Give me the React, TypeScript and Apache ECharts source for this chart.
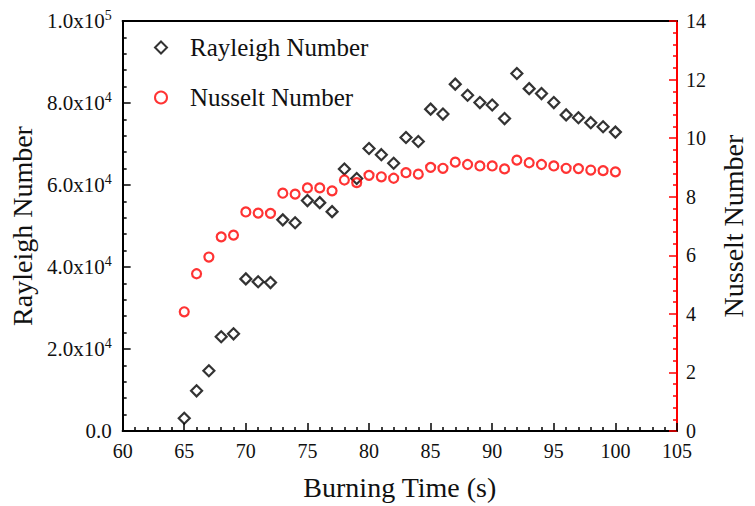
import React, { useEffect, useRef } from "react";
import * as echarts from "echarts";

const times = [65, 66, 67, 68, 69, 70, 71, 72, 73, 74, 75, 76, 77, 78, 79, 80, 81, 82, 83, 84, 85, 86, 87, 88, 89, 90, 91, 92, 93, 94, 95, 96, 97, 98, 99, 100];
const rayleigh = [3100, 9800, 14700, 23000, 23700, 37100, 36400, 36200, 51500, 50800, 56200, 55700, 53500, 63900, 61600, 68900, 67400, 65300, 71600, 70600, 78500, 77300, 84600, 81900, 80100, 79500, 76200, 87200, 83500, 82300, 80100, 77100, 76400, 75200, 74200, 72900];
const nusselt = [4.07, 5.37, 5.94, 6.63, 6.69, 7.48, 7.44, 7.43, 8.12, 8.09, 8.3, 8.3, 8.2, 8.57, 8.48, 8.73, 8.68, 8.63, 8.82, 8.77, 9.0, 8.97, 9.18, 9.1, 9.05, 9.05, 8.95, 9.25, 9.16, 9.1, 9.05, 8.97, 8.96, 8.91, 8.89, 8.85];

const FONT = "Liberation Serif";

function sciLabel(v: number): string {
  if (v === 0) return "{m|0.0}";
  const e = Math.floor(Math.log10(v) + 1e-9);
  const m = v / Math.pow(10, e);
  return `{m|${m.toFixed(1)}x10}{s|${e}}`;
}

export default function App() {
  const ref = useRef<HTMLDivElement>(null);
  useEffect(() => {
    if (!ref.current) return;
    const chart = echarts.init(ref.current, null, { renderer: "svg" });
    chart.setOption({
      animation: false,
      backgroundColor: "#fff",
      textStyle: { fontFamily: FONT },
      grid: { left: 122, right: 72, top: 21, bottom: 75 },
      legend: {
        orient: "vertical",
        left: 149,
        top: 30,
        itemWidth: 12,
        itemHeight: 12,
        itemGap: 25,
        textStyle: { fontFamily: FONT, fontSize: 25, color: "#111", padding: [0, 0, 0, 18], lineHeight: 25 },
        data: ["Rayleigh Number", "Nusselt Number"],
      },
      xAxis: [
        {
          type: "value",
          min: 60,
          max: 105,
          interval: 5,
          name: "Burning Time (s)",
          nameLocation: "middle",
          nameGap: 42,
          nameTextStyle: { fontFamily: FONT, fontSize: 28, color: "#111" },
          axisLine: { show: true, onZero: false, lineStyle: { color: "#000", width: 2 } },
          axisTick: { show: true, inside: true, length: 8, lineStyle: { color: "#000", width: 1.5 } },
          minorTick: { show: true, splitNumber: 5, length: 4, lineStyle: { color: "#000", width: 1.5 } },
          axisLabel: { fontFamily: FONT, fontSize: 20, color: "#111", margin: 10 },
          splitLine: { show: false },
        },
        {
          type: "value",
          position: "top",
          min: 60,
          max: 105,
          axisLine: { show: true, onZero: false, lineStyle: { color: "#000", width: 2 } },
          axisTick: { show: false },
          axisLabel: { show: false },
          splitLine: { show: false },
        },
      ],
      yAxis: [
        {
          type: "value",
          min: 0,
          max: 100000,
          interval: 20000,
          position: "left",
          name: "Rayleigh Number",
          nameLocation: "middle",
          nameRotate: 90,
          nameGap: 79,
          nameTextStyle: { fontFamily: FONT, fontSize: 28, color: "#111" },
          axisLine: { show: true, onZero: false, lineStyle: { color: "#000", width: 2 } },
          axisTick: { show: true, inside: true, length: 8, lineStyle: { color: "#000", width: 1.5 } },
          minorTick: { show: true, splitNumber: 5, length: 4, lineStyle: { color: "#000", width: 1.5 } },
          axisLabel: {
            margin: 11,
            formatter: (v: number) => sciLabel(v),
            rich: {
              m: { fontFamily: FONT, fontSize: 21, color: "#111" },
              s: { fontFamily: FONT, fontSize: 14, color: "#111", padding: [0, 0, 12, 0] },
            },
          },
          splitLine: { show: false },
        },
        {
          type: "value",
          min: 0,
          max: 14,
          interval: 2,
          position: "right",
          name: "Nusselt Number",
          nameLocation: "middle",
          nameRotate: 90,
          nameGap: 42,
          nameTextStyle: { fontFamily: FONT, fontSize: 28, color: "#111" },
          axisLine: { show: true, onZero: false, lineStyle: { color: "#f00", width: 2 } },
          axisTick: { show: true, inside: true, length: 8, lineStyle: { color: "#f00", width: 1.5 } },
          minorTick: { show: true, splitNumber: 5, length: 4, lineStyle: { color: "#f00", width: 1.5 } },
          axisLabel: { fontFamily: FONT, fontSize: 20, color: "#111", margin: 9 },
          splitLine: { show: false },
        },
      ],
      series: [
        {
          name: "Rayleigh Number",
          type: "scatter",
          xAxisIndex: 0,
          yAxisIndex: 0,
          symbol: "diamond",
          symbolSize: 11,
          itemStyle: { color: "rgba(255,255,255,0)", borderColor: "#000", borderWidth: 2.2 },
          data: times.map((t, i) => [t, rayleigh[i]]),
        },
        {
          name: "Nusselt Number",
          type: "scatter",
          xAxisIndex: 0,
          yAxisIndex: 1,
          symbol: "circle",
          symbolSize: 9,
          itemStyle: { color: "rgba(255,255,255,0)", borderColor: "#f00", borderWidth: 2.2 },
          data: times.map((t, i) => [t, nusselt[i]]),
        },
      ],
    });
    return () => chart.dispose();
  }, []);
  return <div ref={ref} style={{ width: 755, height: 506, position: "absolute", left: 0, top: 0 }} />;
}
